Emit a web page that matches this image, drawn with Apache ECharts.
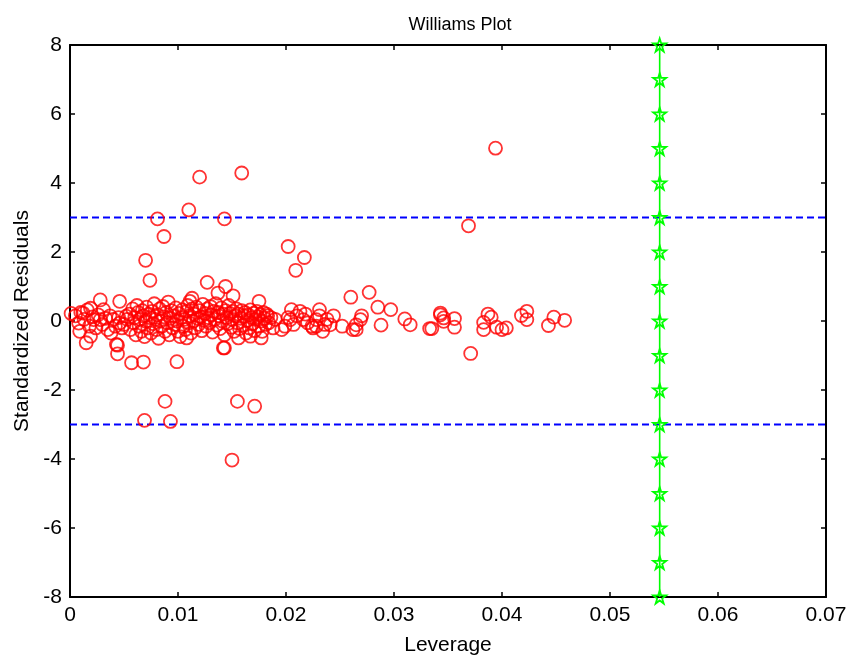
<!DOCTYPE html>
<html>
<head>
<meta charset="utf-8">
<script src="https://cdn.jsdelivr.net/npm/echarts@6/dist/echarts.min.js"></script>
<style>html,body{margin:0;padding:0;background:#fff;overflow:hidden}#c{width:850px;height:661px}</style>
</head>
<body>
<div id="c"></div>
<script>
// Leverage values (x) and standardized residuals (y)
const leverage = [
 0.0001,0.0005,0.0008,0.0009,0.0010,0.0012,0.0013,0.0015,0.0016,0.0018,0.0019,0.0019,0.0021,0.0022,0.0024,0.0026,0.0028,0.0028,0.0030,0.0031,
 0.0033,0.0035,0.0037,0.0038,0.0040,0.0042,0.0043,0.0044,0.0045,0.0046,0.0046,0.0048,0.0052,
 0.0050,0.0053,0.0055,0.0056,0.0058,0.0059,0.0060,0.0061,0.0062,0.0063,0.0064,0.0065,0.0066,0.0067,0.0068,0.0069,0.0070,0.0071,0.0072,0.0073,
 0.0074,0.0075,0.0076,0.0077,0.0078,0.0079,0.0080,0.0081,0.0082,0.0083,0.0084,0.0085,0.0086,0.0087,0.0088,0.0089,0.0090,0.0091,0.0092,0.0093,
 0.0094,0.0095,0.0096,0.0097,0.0098,0.0099,0.0100,0.0101,0.0102,0.0103,0.0104,0.0105,0.0106,0.0107,0.0108,0.0109,0.0110,0.0111,0.0112,0.0113,
 0.0114,0.0115,0.0116,0.0117,0.0118,0.0119,0.0120,0.0121,0.0122,0.0123,0.0124,0.0125,0.0126,0.0127,0.0128,0.0129,0.0130,0.0131,0.0132,0.0133,
 0.0134,0.0135,0.0136,0.0137,0.0138,0.0139,0.0140,0.0141,0.0142,0.0143,0.0144,0.0145,0.0146,0.0147,0.0148,0.0149,0.0150,0.0151,0.0152,0.0153,
 0.0154,0.0155,0.0156,0.0157,0.0158,0.0159,0.0160,0.0161,0.0162,0.0163,0.0164,0.0165,0.0166,0.0167,0.0168,0.0169,0.0170,0.0171,0.0172,0.0173,
 0.0174,0.0175,0.0176,0.0177,0.0178,0.0179,0.0180,0.0181,0.0182,0.0183,0.0184,0.0186,0.0188,0.0190,
 0.0111,0.0113,0.0137,0.0151,0.0175,0.0142,0.0177,0.0167,0.0156,0.0108,0.0057,0.0068,0.0099,
 0.0196,0.0199,0.0202,0.0204,0.0205,0.0207,0.0210,0.0213,0.0216,0.0218,0.0220,0.0224,0.0225,0.0228,0.0228,0.0231,0.0231,0.0234,0.0236,0.0238,
 0.0241,0.0244,0.0252,0.0260,0.0262,0.0265,0.0265,0.0269,0.0270,0.0277,0.0285,0.0288,0.0297,0.0310,0.0315,0.0333,0.0335,0.0343,0.0343,0.0346,
 0.0346,0.0356,0.0356,0.0371,0.0383,0.0383,0.0387,0.0390,0.0395,0.0400,0.0404,0.0418,0.0423,0.0423,0.0443,0.0448,0.0458,
 0.0394,0.0159,0.0120,0.0110,0.0081,0.0143,0.0369,0.0087,0.0202,0.0217,0.0209,0.0070,0.0074,0.0127,0.0144,
 0.0069,0.0093,0.0088,0.0155,0.0171,0.0150,0.0044,0.0143
];
const residuals = [
 0.22,0.15,-0.06,-0.30,0.25,0.23,0.05,-0.63,0.32,-0.15,0.37,-0.44,0.12,0.04,-0.20,0.18,0.61,0.04,-0.10,0.33,
 0.08,-0.25,0.15,-0.35,0.05,-0.15,-0.68,-0.95,0.10,0.57,-0.06,-0.20,0.14,
 -0.10,0.05,0.20,-0.25,0.35,-0.05,0.10,-0.40,0.45,0.25,-0.15,0.05,-0.30,0.30,0.15,-0.45,0.00,0.40,-0.20,0.20,
 0.10,-0.35,0.28,-0.08,0.50,0.05,-0.25,0.18,-0.50,0.35,0.00,-0.15,0.42,0.12,-0.30,0.25,-0.05,0.55,-0.40,0.08,
 0.30,-0.20,0.15,-0.10,0.38,0.00,-0.30,0.22,-0.45,0.10,0.32,-0.15,0.05,-0.25,0.28,0.45,-0.05,0.15,-0.35,0.35,
 0.00,0.20,-0.20,0.40,0.08,-0.10,0.30,0.12,-0.28,0.48,0.02,0.22,-0.15,0.35,0.10,-0.05,0.42,0.18,-0.32,0.28,
 0.05,0.50,-0.12,0.25,0.15,-0.22,0.38,0.00,0.20,-0.40,0.30,0.10,-0.08,0.45,0.22,-0.18,0.05,0.28,-0.30,0.15,
 0.35,-0.05,0.20,-0.22,0.08,0.30,-0.12,0.15,0.25,-0.35,0.02,0.18,-0.20,0.32,0.10,-0.08,0.22,-0.28,0.05,0.28,
 0.12,-0.15,0.18,0.00,-0.30,0.25,0.08,-0.10,0.20,0.15,-0.05,0.10,-0.20,0.05,
 0.57,0.66,0.81,0.73,0.57,-0.78,-0.49,-0.44,-0.49,-0.49,-1.21,-1.19,-1.18,
 -0.25,-0.15,0.10,0.04,0.33,-0.10,0.15,0.28,0.04,0.20,-0.05,-0.15,-0.20,0.04,-0.15,0.33,0.15,-0.30,-0.10,0.05,
 -0.11,0.15,-0.15,0.69,-0.25,-0.11,-0.25,0.04,0.15,0.83,0.40,-0.12,0.33,0.06,-0.11,-0.22,-0.22,0.23,0.18,0.09,
 -0.01,0.07,-0.18,-0.94,-0.04,-0.25,0.20,0.11,-0.18,-0.25,-0.20,0.16,0.28,0.04,-0.13,0.11,0.02,
 5.01,4.29,4.17,3.22,2.96,2.96,2.76,2.45,2.16,1.84,1.47,1.76,1.18,1.12,1.00,
 -2.88,-2.91,-2.33,-2.33,-2.47,-4.03,-0.70,-0.78
];
// Warning leverage h* and residual limits
const hStar = 0.0546;
const residualLimits = [3, -3];
const starLevels = [-8,-7,-6,-5,-4,-3,-2,-1,0,1,2,3,4,5,6,7,8];
const xTicks = { min: 0, max: 0.07, interval: 0.01 };
const yTicks = { min: -8, max: 8, interval: 2 };

const points = leverage.map((x, i) => [x, residuals[i]]);
const starLine = starLevels.map(v => [hStar, v]);
const starPath = 'path://M50,0 L61.8,36.2 L100,36.2 L69.1,58.8 L80.9,95.1 L50,72.7 L19.1,95.1 L30.9,58.8 L0,36.2 L38.2,36.2 Z';
const font = '"Liberation Sans", Arial, sans-serif';

const chart = echarts.init(document.getElementById('c'), null, { renderer: 'canvas' });
const axisCommon = {
  axisLine: { show: true, onZero: false, lineStyle: { color: '#000', width: 2 } },
  axisTick: { show: true, inside: true, length: 5, lineStyle: { color: '#000', width: 1.5 } },
  splitLine: { show: false }
};
chart.setOption({
  animation: false,
  backgroundColor: '#fff',
  title: {
    text: 'Williams Plot', left: 455, top: 11, textAlign: 'center',
    textStyle: { fontFamily: font, fontSize: 18, fontWeight: 'normal', color: '#000' }
  },
  grid: { left: 70, right: 24, top: 45, bottom: 60, containLabel: false },
  xAxis: [
    Object.assign({}, axisCommon, {
      type: 'value', min: xTicks.min, max: xTicks.max, interval: xTicks.interval, position: 'bottom',
      name: 'Leverage', nameLocation: 'middle', nameGap: 38,
      nameTextStyle: { fontFamily: font, fontSize: 21, color: '#000' },
      axisLabel: { fontFamily: font, fontSize: 21, color: '#000', margin: 8,
        formatter: v => (Math.round(v * 100) / 100).toString() }
    }),
    Object.assign({}, axisCommon, {
      type: 'value', min: xTicks.min, max: xTicks.max, interval: xTicks.interval, position: 'top',
      axisLabel: { show: false }
    })
  ],
  yAxis: [
    Object.assign({}, axisCommon, {
      type: 'value', min: yTicks.min, max: yTicks.max, interval: yTicks.interval, position: 'left',
      name: 'Standardized Residuals', nameLocation: 'middle', nameGap: 37,
      nameTextStyle: { fontFamily: font, fontSize: 21, color: '#000' },
      axisLabel: { fontFamily: font, fontSize: 21, color: '#000', margin: 8 }
    }),
    Object.assign({}, axisCommon, {
      type: 'value', min: yTicks.min, max: yTicks.max, interval: yTicks.interval, position: 'right',
      axisLabel: { show: false }
    })
  ],
  series: [
    {
      type: 'line', name: 'upper', data: [[xTicks.min, residualLimits[0]], [xTicks.max, residualLimits[0]]],
      showSymbol: false, symbol: 'none', lineStyle: { color: '#0000ff', width: 2, type: [7, 4] }, z: 2
    },
    {
      type: 'line', name: 'lower', data: [[xTicks.min, residualLimits[1]], [xTicks.max, residualLimits[1]]],
      showSymbol: false, symbol: 'none', lineStyle: { color: '#0000ff', width: 2, type: [7, 4] }, z: 2
    },
    {
      type: 'scatter', name: 'samples', data: points, symbol: 'circle', symbolSize: 13,
      itemStyle: { color: 'rgba(0,0,0,0)', borderColor: '#ff0000', borderWidth: 1.8 }, z: 3
    },
    {
      type: 'line', name: 'hstar', data: starLine, clip: false, symbol: starPath, symbolSize: 13,
      showAllSymbol: true,
      lineStyle: { color: '#00ff00', width: 1.6 },
      itemStyle: { color: 'rgba(0,0,0,0)', borderColor: '#00ff00', borderWidth: 1.8 }, z: 4
    }
  ]
});
</script>
</body>
</html>
